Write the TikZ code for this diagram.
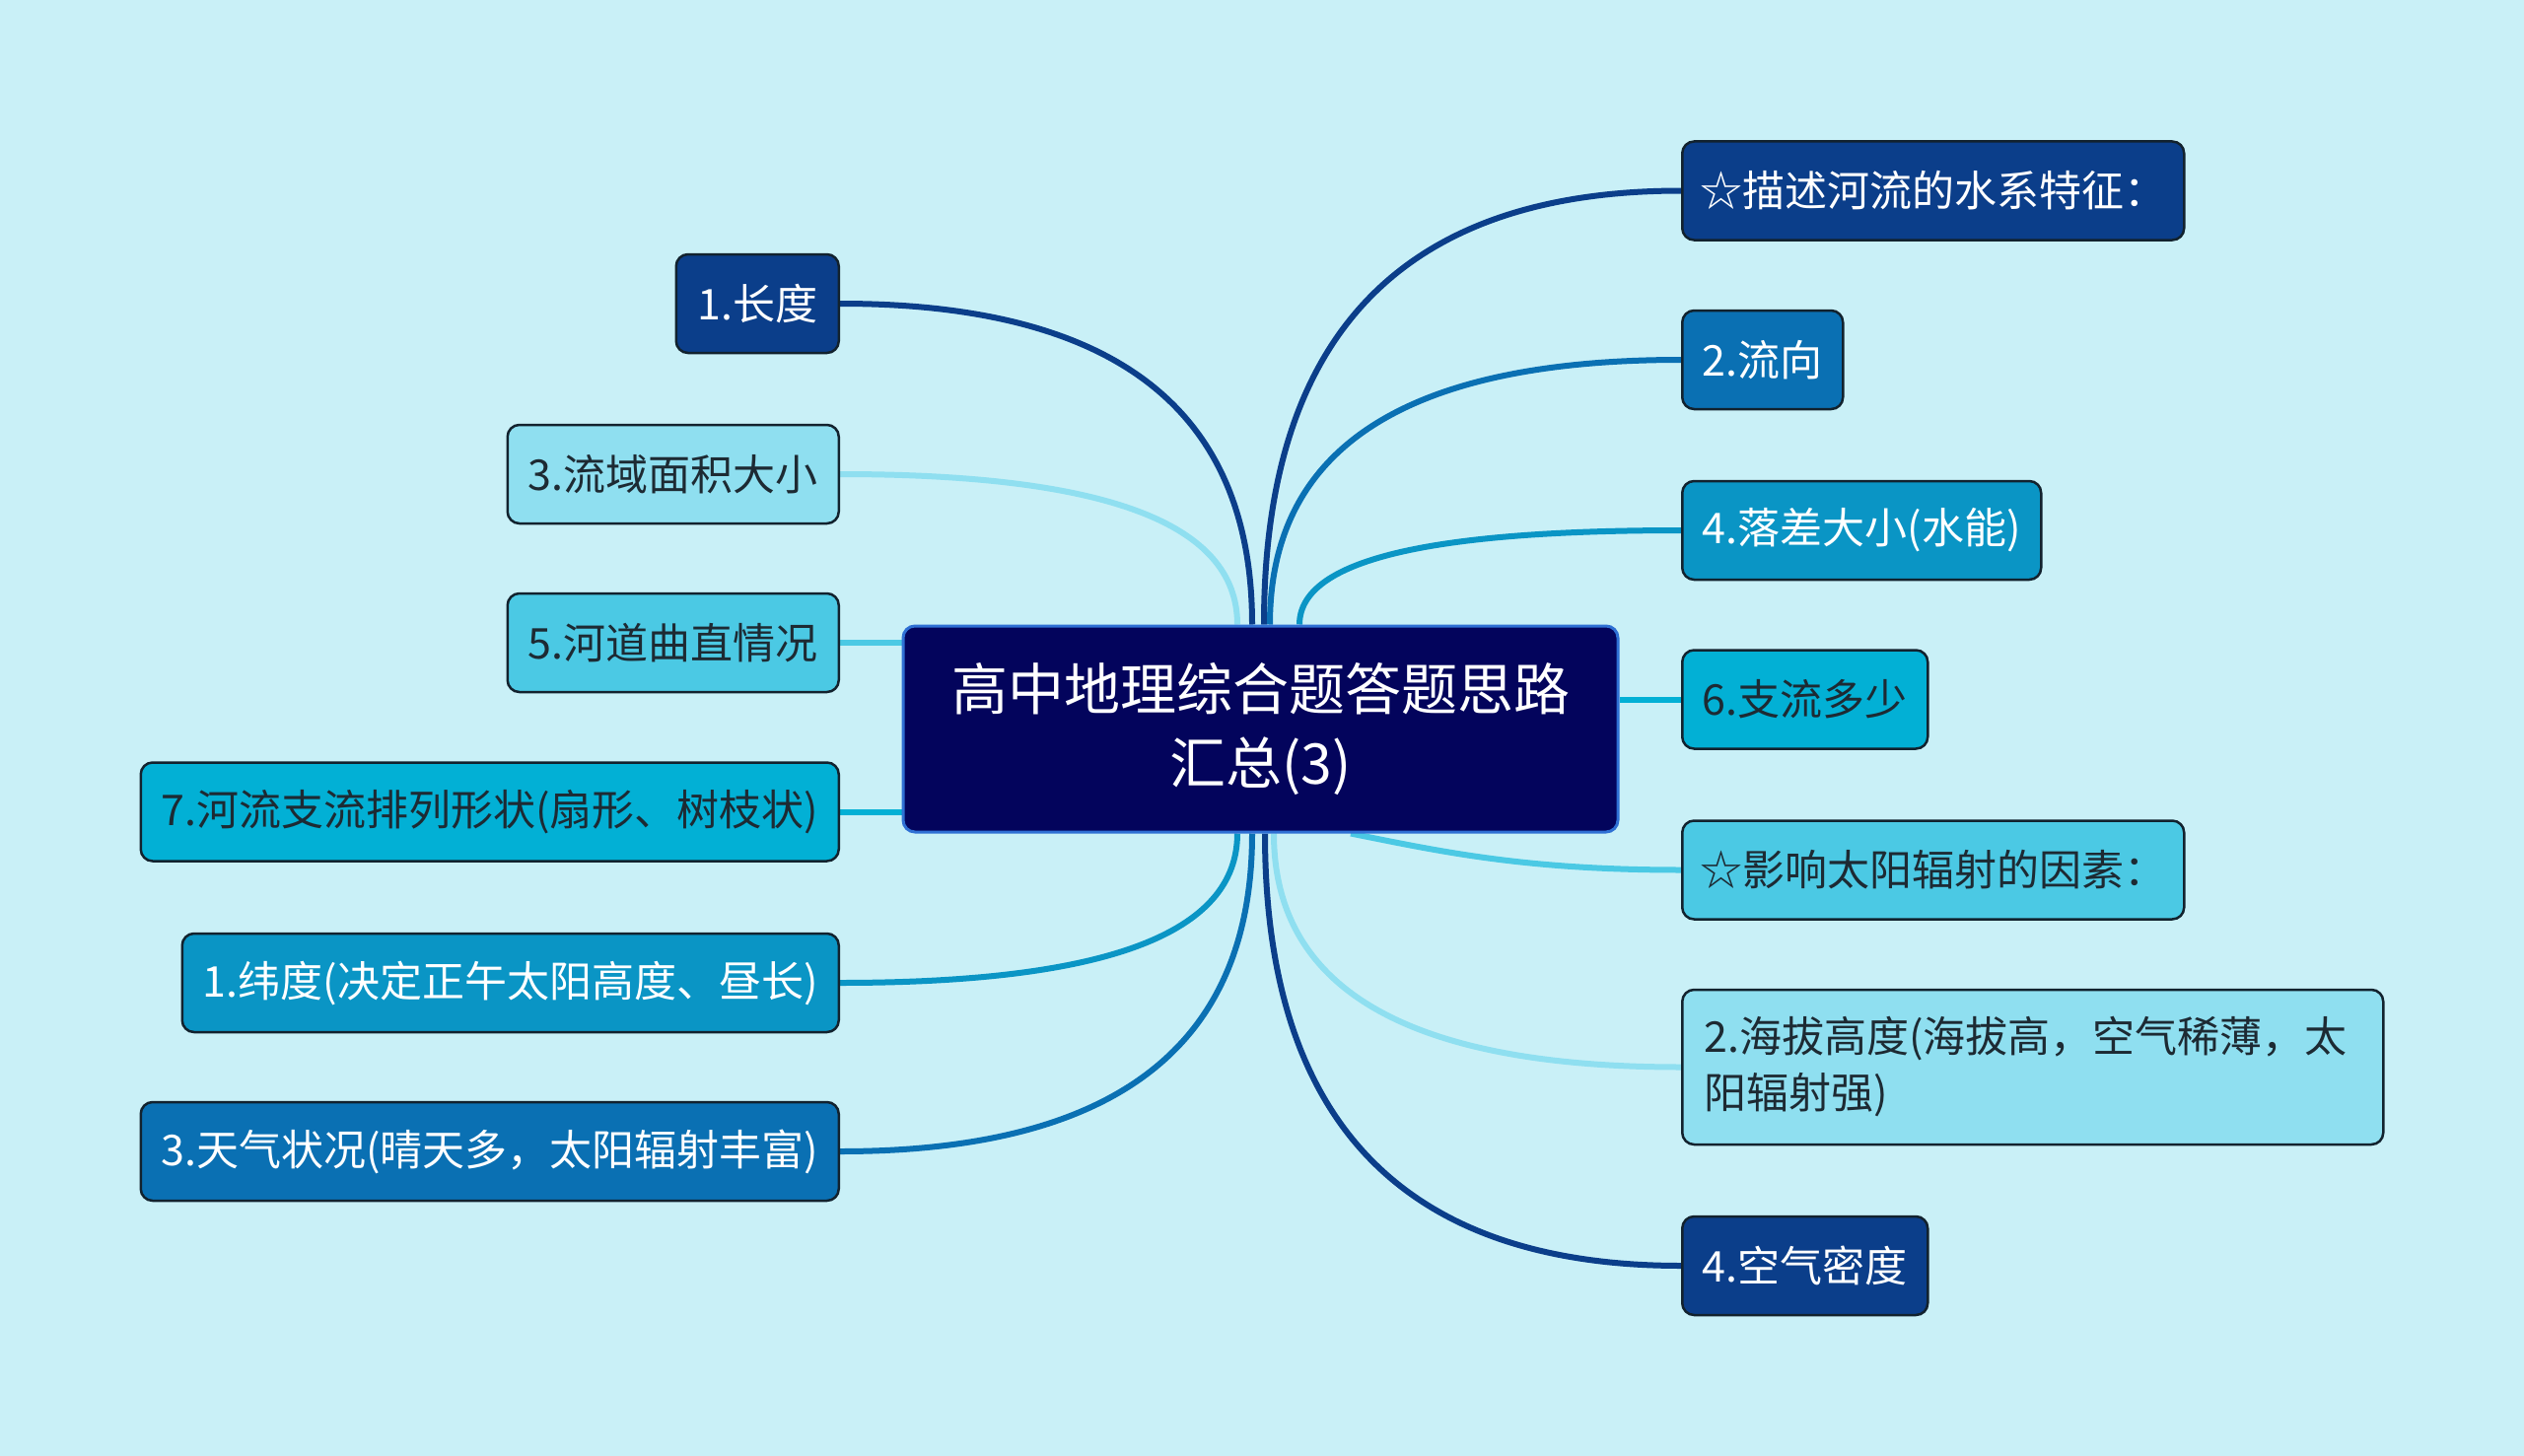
\documentclass[tikz,border=0pt]{standalone}
\usepackage{fontspec}
\setmainfont{Noto Sans CJK SC}
\usetikzlibrary{calc}
\pgfdeclarelayer{bg}
\pgfdeclarelayer{edges}
\pgfsetlayers{bg,edges,main}
\definecolor{bgc}{HTML}{C9F0F7}
\definecolor{cA}{HTML}{0B3E8A}
\definecolor{cB}{HTML}{0A70B3}
\definecolor{cC}{HTML}{0A95C5}
\definecolor{cD}{HTML}{02B0D5}
\definecolor{cE}{HTML}{4BC9E4}
\definecolor{cF}{HTML}{8FDFF0}
\definecolor{cCenter}{HTML}{03045C}
\definecolor{cCenterBd}{HTML}{2F70D4}
\definecolor{txtd}{HTML}{1D2A33}
\definecolor{bd}{HTML}{12222E}
\tikzset{
  topic/.style={draw=bd, line width=2.5pt, rounded corners=12pt, minimum height=100pt,
    inner xsep=18pt, inner ysep=8pt, font=\fontsize{43}{57}\selectfont},
  lt/.style={topic, anchor=east},
  rt/.style={topic, anchor=west},
  dk/.style={text=white},
  lk/.style={text=txtd},
  link/.style={line width=6pt}
}
\begin{document}
\begin{tikzpicture}[x=1pt,y=-1pt]
\useasboundingbox (0,0) rectangle (2560,1477);
\begin{pgfonlayer}{bg}
\fill[bgc] (0,0) rectangle (2560,1477);
\end{pgfonlayer}

% center
\node[draw=cCenterBd, fill=cCenter, line width=3pt, rounded corners=12pt,
  minimum width=725pt, minimum height=209pt, text=white, align=center,
  font=\fontsize{57}{75}\selectfont] (C) at (1278.5,739.5) {高中地理综合题答题思路\\汇总(3)};

% left nodes
\node[lt, fill=cA, dk, minimum width=165pt] (L1) at (852,308) {1.长度};
\node[lt, fill=cF, lk, minimum width=336pt] (L2) at (852,481) {3.流域面积大小};
\node[lt, fill=cE, lk, minimum width=336pt] (L3) at (852,652) {5.河道曲直情况};
\node[lt, fill=cD, lk, minimum width=708pt] (L4) at (852,823.5) {7.河流支流排列形状(扇形、树枝状)};
\node[lt, fill=cC, dk, minimum width=666pt] (L5) at (852,997) {1.纬度(决定正午太阳高度、昼长)};
\node[lt, fill=cB, dk, minimum width=708pt] (L6) at (852,1168) {3.天气状况(晴天多，太阳辐射丰富)};

% right nodes
\node[rt, fill=cA, dk, minimum width=507pt] (R1) at (1705,193.5) {☆描述河流的水系特征：};
\node[rt, fill=cB, dk, minimum width=163pt] (R2) at (1705,365) {2.流向};
\node[rt, fill=cC, dk, minimum width=364pt] (R3) at (1705,538) {4.落差大小(水能)};
\node[rt, fill=cD, lk, minimum width=249pt] (R4) at (1705,709.5) {6.支流多少};
\node[rt, fill=cE, lk, minimum width=507pt] (R5) at (1705,882.5) {☆影响太阳辐射的因素：};
\node[rt, fill=cF, lk, minimum height=157pt, inner xsep=22pt, text width=667pt, align=left] (R6) at (1705,1082.5)
  {2.海拔高度(海拔高，空气稀薄，太\\阳辐射强)};
\node[rt, fill=cA, dk, minimum width=249pt] (R7) at (1705,1284) {4.空气密度};

% attachment points on the center node
\coordinate (tL1) at ($(C.north)+(-8.5,0)$);
\coordinate (tL2) at ($(C.north)+(-23.5,0)$);
\coordinate (tR1) at ($(C.north)+(3.5,0)$);
\coordinate (tR2) at ($(C.north)+(9.5,0)$);
\coordinate (tR3) at ($(C.north)+(39.5,0)$);
\coordinate (bL5) at ($(C.south)+(-23.5,0)$);
\coordinate (bL6) at ($(C.south)+(-8.5,0)$);
\coordinate (bR7) at ($(C.south)+(4.5,0)$);
\coordinate (bR6) at ($(C.south)+(13.5,0)$);
\coordinate (bR5) at ($(C.south)+(91.5,0)$);

\begin{pgfonlayer}{edges}
\draw[link, cA] (L1.east) .. controls +(279,0) and +(0,-218) .. (tL1);
\draw[link, cF] (L2.east) .. controls +(269,0) and +(0,-103) .. (tL2);
\draw[link, cE] (L3.east) -- (L3.east -| C.west);
\draw[link, cD] (L4.east) -- (L4.east -| C.west);
\draw[link, cC] (L5.east) .. controls +(269,0) and +(0,102) .. (bL5);
\draw[link, cB] (L6.east) .. controls +(279,0) and +(0,216) .. (bL6);
\draw[link, cA] (R1.west) .. controls +(-282,0) and +(0,-294) .. (tR1);
\draw[link, cB] (R2.west) .. controls +(-278,0) and +(0,-180) .. (tR2);
\draw[link, cC] (R3.west) .. controls +(-258,0) and +(0,-65) .. (tR3);
\draw[link, cD] (R4.west) -- (R4.west -| C.east);
\draw[link, cE] (R5.west) .. controls +(-160,0) and +(90,18) .. (bR5);
\draw[link, cF] (R6.west) .. controls +(-275,0) and +(0,159) .. (bR6);
\draw[link, cA] (R7.west) .. controls +(-281,0) and +(0,293) .. (bR7);
\end{pgfonlayer}
\end{tikzpicture}
\end{document}
